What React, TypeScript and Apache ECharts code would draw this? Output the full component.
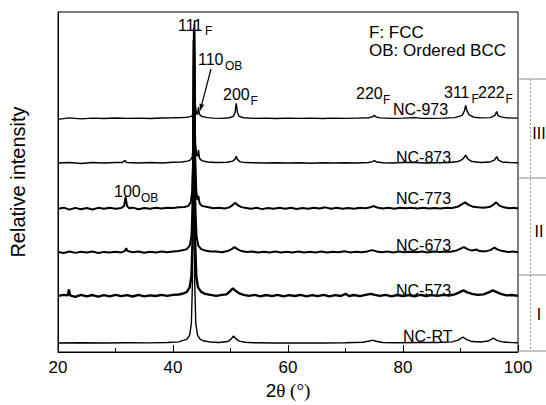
import React, { useEffect, useRef } from "react";
import * as echarts from "echarts";

// x-axis ticks
const xTicks = [20, 40, 60, 80, 100];

// sample names (top to bottom) and their vertical offsets (stacked display)
const sampleNames = ["NC-973", "NC-873", "NC-773", "NC-673", "NC-573", "NC-RT"];
const offsets = [235, 190, 144, 100, 56, 9];
const lineWidths = [1.4, 1.5, 2.0, 2.0, 2.4, 1.4];

// [2θ, relative intensity above own baseline]
const NC_973: number[][] = [
  [20, -1], [22, 0.5], [24, -0.5], [26, 0.3], [28, -0.2], [30, 0.4], [32, 0], [34, 0.3], [36, -0.2], [38, 0.4],
  [40, 0.6], [41.5, 0.8], [42.5, 1.2], [43.2, 2], [43.45, 4], [43.6, 15], [43.68, 50], [43.74, 99], [43.8, 50],
  [43.88, 15], [44.05, 5], [44.25, 4], [44.43, 11], [44.6, 4], [45, 2], [46, 0.8], [47, 0.3], [48.5, 0], [49.8, 0.6],
  [50.5, 2], [50.8, 6], [51.0, 15], [51.2, 6], [51.5, 2], [52.3, 0.6], [54, 0], [56, 0.3], [58, -0.2], [60, 0.2],
  [62, 0], [64, 0.3], [66, -0.2], [68, 0.2], [70, 0], [72, 0.3], [74, 0.6], [74.7, 1.5], [75, 3], [75.3, 1.5],
  [76, 0.5], [78, 0], [80, 0.3], [82, 0.8], [83, 0.2], [85, 0], [87, 0.3], [89, 0.8], [90.3, 3], [90.7, 8],
  [90.9, 13], [91.1, 8], [91.5, 3.5], [92.3, 1.2], [93.5, 0.5], [95.2, 0.8], [96, 3], [96.3, 7], [96.5, 3],
  [97, 1.5], [98, 0.5], [100, 0.3],
];

const NC_873: number[][] = [
  [20, 0], [22, 0.6], [24, -0.4], [26, 0.5], [28, 0], [30, 0.5], [31.2, 0.6], [31.6, 2.5], [32, 0.5], [34, 0.2],
  [36, 0.6], [38, 0.2], [40, 0.8], [41.5, 1.2], [42.5, 2], [43.0, 3], [43.35, 6], [43.55, 20], [43.65, 60],
  [43.72, 140], [43.8, 60], [43.9, 20], [44.1, 8], [44.3, 7], [44.43, 13], [44.6, 5], [45, 2.5], [46, 1.2],
  [47.5, 0.5], [49.5, 0.8], [50.4, 2], [50.8, 4], [51.0, 7], [51.2, 4], [51.6, 1.5], [52.5, 0.5], [54, 0.3],
  [56, 0], [58, 0.4], [60, 0], [62, 0.3], [64, -0.2], [66, 0.3], [68, 0], [70, 0.3], [72, 0.2], [74, 0.6],
  [74.7, 1.5], [75, 2.5], [75.4, 1.2], [76.5, 0.3], [78, 0.2], [80, 0.5], [82, 0.6], [84, 0.2], [86, 0.4],
  [88, 0.5], [89.6, 1.5], [90.4, 4], [90.9, 8], [91.3, 4], [92, 1.5], [93.5, 0.6], [95, 1], [95.9, 3],
  [96.3, 6.5], [96.6, 3], [97.2, 1.2], [98.5, 0.5], [100, 0.3],
];

const NC_773: number[][] = [
  [20, 0], [21, 1.2], [22, -0.8], [23, 1], [24, -0.5], [25, 0.8], [26, -0.6], [27, 1], [28, 0], [29, 1.1],
  [30, 0.2], [31, 0.8], [31.5, 3], [31.75, 12], [32, 3], [32.4, 0.5], [33, 1.2], [34, -0.4], [35, 0.9], [36, 0],
  [37, 1], [38, 0.3], [39, 1.2], [40, 0.8], [41, 1.5], [42, 1.8], [42.7, 3], [43.1, 7], [43.35, 18], [43.5, 50],
  [43.6, 110], [43.68, 180], [43.76, 110], [43.88, 50], [44.05, 18], [44.25, 9], [44.42, 13], [44.6, 6], [45, 3],
  [46, 1.8], [47, 0.5], [48, 1.2], [49, 0.3], [49.8, 1.5], [50.3, 3.5], [50.8, 6], [51.2, 4], [51.8, 2],
  [52.5, 1], [53.5, 0], [54.5, 1], [55.5, -0.3], [56.5, 0.9], [57.5, 0], [58.5, 1], [59.5, 0.2], [60.5, 1],
  [61.5, -0.2], [62.5, 0.8], [63.5, 0.2], [64.5, 1.1], [65.5, 0.3], [66.5, 1.5], [67.5, 0], [68.5, 1],
  [69.5, 0.2], [70.5, 0.9], [71.5, 0], [72.5, 1], [73.5, 0.5], [74.3, 1.5], [74.9, 2.8], [75.5, 1.4],
  [76.5, 0.3], [77.5, 1], [78.5, 0], [79.5, 1], [80.5, 0.5], [81.5, 1], [82.5, 0.3], [83.5, 1], [84.5, 0.4],
  [85.5, 0.8], [86.5, 0.3], [87.5, 1], [88.5, 0.8], [89.5, 2], [90.2, 4.5], [90.8, 6.5], [91.4, 4], [92.2, 2],
  [93, 1.5], [94, 1], [95, 1.8], [95.7, 4], [96.2, 6.5], [96.7, 3.5], [97.5, 1.5], [98.5, 0.5], [99.3, 1],
  [100, 0.3],
];

const NC_673: number[][] = [
  [20, 0.5], [21, -0.5], [22, 1], [23, -0.3], [24, 0.8], [25, 0], [26, 1], [27, -0.4], [28, 0.7], [29, 0],
  [30, 0.9], [31, 0.2], [31.6, 1.5], [31.85, 4.5], [32.1, 1.5], [33, 0.3], [34, 1], [35, -0.2], [36, 0.8],
  [37, 0.2], [38, 1], [39, 0.4], [40, 1.2], [41, 1.5], [41.8, 2.5], [42.4, 3.5], [42.9, 7], [43.2, 16],
  [43.4, 45], [43.55, 120], [43.65, 218], [43.75, 120], [43.9, 45], [44.1, 16], [44.4, 7], [44.9, 3.5],
  [45.6, 2], [46.5, 1], [47.5, 1.2], [48.5, 0.4], [49.5, 1.5], [50.2, 3.5], [50.7, 5.5], [51.2, 3.5],
  [51.9, 1.5], [52.8, 0.5], [53.8, 1], [54.8, 0], [55.8, 0.9], [56.8, 0.2], [57.8, 1], [58.8, 0], [59.8, 0.8],
  [60.8, 0.2], [61.8, 1], [62.8, 0.1], [63.8, 0.9], [64.8, 0.2], [65.8, 1], [66.8, 0], [67.8, 0.9], [68.8, 0.3],
  [69.8, 1.4], [70.8, 0.2], [71.8, 0.8], [72.8, 0.3], [73.8, 1.2], [74.6, 2.5], [75.4, 1.2], [76.3, 0.4],
  [77.3, 1], [78.3, 0], [79.3, 1], [80.3, 0.3], [81.3, 0.9], [82.3, 0.4], [83.3, 1], [84.3, 0.2], [85.3, 1],
  [86.3, 0.5], [87.3, 1], [88.3, 0.8], [89.3, 2], [90, 4], [90.6, 5.5], [91.2, 3.5], [92, 2], [92.8, 3],
  [93.3, 1.5], [94.3, 1.2], [95.2, 2.5], [95.9, 5], [96.5, 3], [97.3, 1.5], [98.3, 0.5], [99.2, 1], [100, 0.3],
];

const NC_573: number[][] = [
  [20, 0.5], [21, 1.5], [21.7, 1], [21.9, 7], [22.1, 1], [23, -0.5], [24, 1.5], [25, 0], [26, 1.3], [27, -0.3],
  [28, 1.2], [29, 0], [30, 1.5], [31, 0.2], [32, 1.2], [33, -0.2], [34, 1.4], [35, 0], [36, 1], [37, 0.3],
  [38, 1.5], [39, 0.5], [40, 1.5], [41, 1.8], [41.8, 2.8], [42.4, 4.5], [42.9, 9], [43.2, 20], [43.4, 55],
  [43.52, 140], [43.62, 258], [43.72, 140], [43.85, 55], [44.05, 20], [44.35, 9], [44.9, 4.5], [45.6, 2.5],
  [46.5, 1.5], [47.5, 0.5], [48.5, 1.5], [49.3, 2], [49.9, 5], [50.4, 8], [50.9, 5.5], [51.5, 3], [52.3, 1.5],
  [53.2, 0.5], [54.2, 1.5], [55.2, 0], [56.2, 1.3], [57.2, 0.2], [58.2, 1.5], [59.2, 0], [60.2, 1.2],
  [61.2, 0.3], [62.2, 1.4], [63.2, 0], [64.2, 1.2], [65.2, 0.2], [66.2, 1.5], [67.2, 0], [68.2, 1.2],
  [69.2, 0.3], [70, 2.5], [70.6, 0.3], [71.5, 1.3], [72.5, 0.2], [73.5, 1.5], [74.4, 2.5], [75.1, 1.5],
  [76, 0.5], [77, 1.4], [78, 0], [79, 1.3], [80, 0.3], [81, 1.2], [82, 0], [83, 1.4], [84, 0.3], [85, 1.2],
  [86, 0.4], [87, 1.5], [88, 0.8], [89, 2], [89.8, 4], [90.5, 6], [91.2, 4], [92, 2.5], [93, 1.5], [94, 2],
  [94.9, 4], [95.6, 6], [96.2, 4.5], [97, 2.5], [98, 1], [99, 1.3], [100, 0.5],
];

const NC_RT: number[][] = [
  [20, 0], [24, 0.3], [28, 0], [32, 0.3], [36, 0.2], [39, 0.6], [41, 1.2], [42.45, 4], [42.9, 8], [43.2, 20],
  [43.38, 60], [43.47, 150], [43.58, 317], [43.69, 150], [43.78, 60], [43.96, 20], [44.26, 8], [44.7, 4],
  [45.4, 2], [46.5, 1], [48, 0.5], [49.5, 1.5], [50.1, 4], [50.5, 7], [50.9, 4.5], [51.5, 2], [52.5, 0.8],
  [54, 0.3], [58, 0.1], [62, 0.2], [66, 0], [70, 0.3], [73, 0.8], [74.2, 2], [74.7, 3], [75.3, 1.8],
  [76.5, 0.6], [79, 0.3], [83, 0.5], [86, 0.6], [88.5, 1.2], [89.6, 3], [90.4, 6], [91.1, 3.5], [92, 1.5],
  [93.5, 1], [94.8, 2], [95.7, 5], [96.4, 2.5], [97.5, 1], [99, 0.4], [100, 0.3],
];

const traces = [NC_973, NC_873, NC_773, NC_673, NC_573, NC_RT];

// peak labels: [main, subscript]
const peakLabels: [string, string][] = [
  ["111", "F"], ["110", "OB"], ["200", "F"], ["220", "F"], ["311", "F"], ["222", "F"], ["100", "OB"],
];
const legendLines = ["F: FCC", "OB: Ordered BCC"];
const regionLabels = ["III", "II", "I"];

const SANS = "'Liberation Sans', Arial, Helvetica, sans-serif";
const SERIF = "'Liberation Serif', 'Times New Roman', serif";

export default function App() {
  const ref = useRef<HTMLDivElement>(null);
  useEffect(() => {
    if (!ref.current) return;
    const chart = echarts.init(ref.current, undefined, { renderer: "svg" });

    const series = traces.map((tr, i) => ({
      type: "line",
      name: sampleNames[i],
      data: tr.map(([x, y]) => [x, y + offsets[i]]),
      showSymbol: false,
      symbol: "none",
      lineStyle: { color: "#000", width: lineWidths[i] },
      z: 3,
    }));

    // pixel layout of annotations (left x, middle y)
    const peakPos = [
      { x: 178, y: 25, sx: 205, sy: 31 },
      { x: 198, y: 59, sx: 225, sy: 66 },
      { x: 223, y: 94, sx: 250.5, sy: 101 },
      { x: 356, y: 93, sx: 383, sy: 100 },
      { x: 444, y: 92, sx: 471.5, sy: 99 },
      { x: 478, y: 92, sx: 505.5, sy: 99 },
      { x: 114, y: 191, sx: 141, sy: 198 },
    ];
    const namePos = [
      { x: 393, y: 109 }, { x: 396, y: 157 }, { x: 396, y: 198 },
      { x: 396, y: 245 }, { x: 396, y: 290 }, { x: 403, y: 336 },
    ];
    const graphics: any[] = [];
    peakLabels.forEach(([m, s], i) => {
      const p = peakPos[i];
      graphics.push({
        type: "text", x: p.x, y: p.y, z: 10,
        style: { text: m, fontFamily: SANS, fontSize: 16, fill: "#000", verticalAlign: "middle" },
      });
      graphics.push({
        type: "text", x: p.sx, y: p.sy, z: 10,
        style: { text: s, fontFamily: SANS, fontSize: 12, fill: "#000", verticalAlign: "middle" },
      });
    });
    sampleNames.forEach((n, i) => {
      const p = namePos[i];
      graphics.push({
        type: "text", x: p.x, y: p.y, z: 10,
        style: { text: n, fontFamily: SANS, fontSize: 16, fill: "#000", verticalAlign: "middle" },
      });
    });
    legendLines.forEach((t, i) => {
      graphics.push({
        type: "text", x: 369, y: i === 0 ? 32 : 50.5, z: 10,
        style: { text: t, fontFamily: SANS, fontSize: 17, fill: "#000", verticalAlign: "middle" },
      });
    });
    // arrow to 110 OB
    graphics.push({
      type: "line", z: 10,
      shape: { x1: 211, y1: 69, x2: 201.8, y2: 104.2 },
      style: { stroke: "#000", lineWidth: 1.2 },
    });
    graphics.push({
      type: "polygon", z: 10,
      shape: { points: [[200, 111], [204.2, 104.8], [199.4, 103.6]] },
      style: { fill: "#000" },
    });
    // region bracket on the right
    [79, 178, 275, 351].forEach((y) => {
      graphics.push({
        type: "line", z: 5,
        shape: { x1: 518, y1: y, x2: 546, y2: y },
        style: { stroke: "#8a8a8a", lineWidth: 1 },
      });
    });
    graphics.push({
      type: "line", z: 5,
      shape: { x1: 530.5, y1: 79, x2: 530.5, y2: 351 },
      style: { stroke: "#9a9a9a", lineWidth: 1, lineDash: [2, 2] },
    });
    const regionY = [133, 231, 314];
    regionLabels.forEach((t, i) => {
      graphics.push({
        type: "text", x: 539, y: regionY[i], z: 10,
        style: { text: t, fontFamily: SANS, fontSize: 16, fill: "#000", align: "center", verticalAlign: "middle" },
      });
    });

    chart.setOption({
      animation: false,
      backgroundColor: "#fff",
      grid: { left: 57.5, right: 28, top: 12, bottom: 51, show: true, borderColor: "#000", borderWidth: 1 },
      xAxis: {
        type: "value",
        min: xTicks[0],
        max: xTicks[xTicks.length - 1],
        interval: 20,
        name: "{a|2}{b|θ (°)}",
        nameLocation: "middle",
        nameGap: 29,
        nameTextStyle: {
          fontSize: 19,
          fontFamily: SANS,
          color: "#000",
          rich: {
            a: { fontFamily: SANS, fontSize: 19, color: "#000" },
            b: { fontFamily: SERIF, fontSize: 19, color: "#000" },
          },
        },
        axisLine: { show: true, onZero: false, lineStyle: { color: "#000", width: 1 } },
        axisTick: { show: true, inside: true, length: 7, lineStyle: { color: "#000" } },
        minorTick: { show: true, splitNumber: 2, length: 4, lineStyle: { color: "#000" } },
        axisLabel: { fontFamily: SANS, fontSize: 17, color: "#000", margin: 7 },
        splitLine: { show: false },
      },
      yAxis: {
        type: "value",
        min: 0,
        max: 342,
        name: "Relative intensity",
        nameLocation: "middle",
        nameGap: 30,
        nameTextStyle: { fontSize: 20, fontFamily: SANS, color: "#000" },
        axisLine: { show: true, lineStyle: { color: "#000", width: 1 } },
        axisTick: { show: false },
        axisLabel: { show: false },
        splitLine: { show: false },
      },
      series,
      graphic: graphics,
    });
    return () => chart.dispose();
  }, []);
  return (
    <div
      ref={ref}
      style={{ position: "fixed", left: 0, top: 0, width: 546, height: 405, background: "#fff" }}
    />
  );
}
